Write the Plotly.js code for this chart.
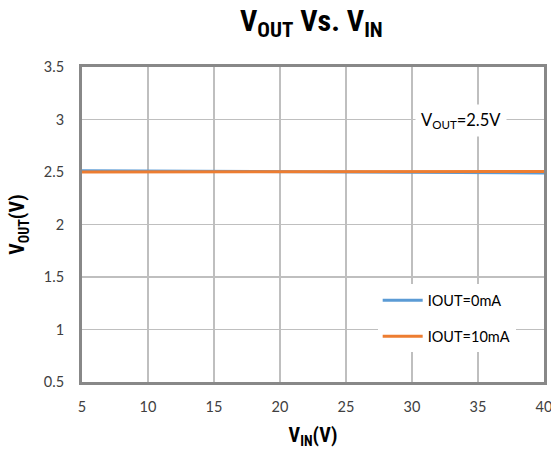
<!DOCTYPE html>
<html><head><meta charset="utf-8">
<script src="https://cdn.plot.ly/plotly-3.0.1.min.js"></script>
<style>html,body{margin:0;padding:0;background:#fff}#chart{width:551px;height:455px}</style>
</head><body><div id="chart"></div>
<script>
const vin = [5, 10, 15, 20, 25, 30, 35, 40];
const vout0mA = [2.512, 2.509, 2.506, 2.503, 2.5, 2.497, 2.494, 2.491];
const vout10mA = [2.499, 2.5, 2.5, 2.501, 2.502, 2.503, 2.504, 2.505];
const seriesNames = ['IOUT=0mA', 'IOUT=10mA'];
const seriesColors = ['#5b9bd5', '#ed7d31'];
const xTicks = [5, 10, 15, 20, 25, 30, 35, 40];
const yTicks = [0.5, 1, 1.5, 2, 2.5, 3, 3.5];

const tickFont = {family: 'Lato, "Liberation Sans", sans-serif', size: 14.5, color: '#404040'};
const boldFont = {family: '"Liberation Sans Narrow", "Roboto Condensed", Roboto, sans-serif', size: 20, color: '#000'};

const traces = [
  {x: vin, y: vout0mA, name: seriesNames[0], mode: 'lines', line: {color: seriesColors[0], width: 3}, legendgroup: 'a'},
  {x: vin, y: vout10mA, name: seriesNames[1], mode: 'lines', line: {color: seriesColors[1], width: 3}, legendgroup: 'b'}
];

const layout = {
  width: 551, height: 455,
  margin: {l: 82, r: 7, t: 67, b: 73},
  paper_bgcolor: '#fff', plot_bgcolor: '#fff',
  title: {text: '<b>V<sub>OUT</sub> Vs. V<sub>IN</sub></b>', font: Object.assign({}, boldFont, {size: 30}),
          x: 0.565, xanchor: 'center', y: 0.955, yanchor: 'middle'},
  xaxis: {range: [5, 40], tickvals: xTicks, ticktext: xTicks.map(String), tickfont: tickFont,
          showgrid: true, gridcolor: '#bfbfbf', gridwidth: 1.5, zeroline: false,
          showline: true, mirror: true, linecolor: '#888888', linewidth: 3, ticks: '', ticklabelstandoff: 10,
          ticklabeloverflow: 'allow',
          title: {text: '<b>V<sub>IN</sub>(V)</b>', font: boldFont, standoff: 14}},
  yaxis: {range: [0.5, 3.5], tickvals: yTicks, ticktext: yTicks.map(String), tickfont: tickFont,
          showgrid: true, gridcolor: '#bfbfbf', gridwidth: 1.5, zeroline: false,
          showline: true, mirror: true, linecolor: '#888888', linewidth: 3, ticks: '', ticklabelstandoff: 12,
          title: {text: '<b>V<sub>OUT</sub>(V)</b>', font: boldFont, standoff: 14}},
  showlegend: true,
  legend: {x: 0.64, y: 0.31, xanchor: 'left', yanchor: 'top', bgcolor: '#ffffff', borderwidth: 0,
           font: {family: 'Lato, "Liberation Sans", sans-serif', size: 14.5, color: '#000'},
           traceorder: 'grouped', tracegroupgap: 14, itemwidth: 40},
  annotations: [{xref: 'paper', yref: 'paper', x: 0.82, y: 0.83, xanchor: 'center', yanchor: 'middle',
                 text: 'V<sub>OUT</sub>=2.5V', showarrow: false, bgcolor: '#ffffff', borderpad: 5,
                 font: {family: 'Lato, "Liberation Sans", sans-serif', size: 16.5, color: '#000'}}]
};

Plotly.newPlot('chart', traces, layout, {displayModeBar: false, staticPlot: true});
</script></body></html>
